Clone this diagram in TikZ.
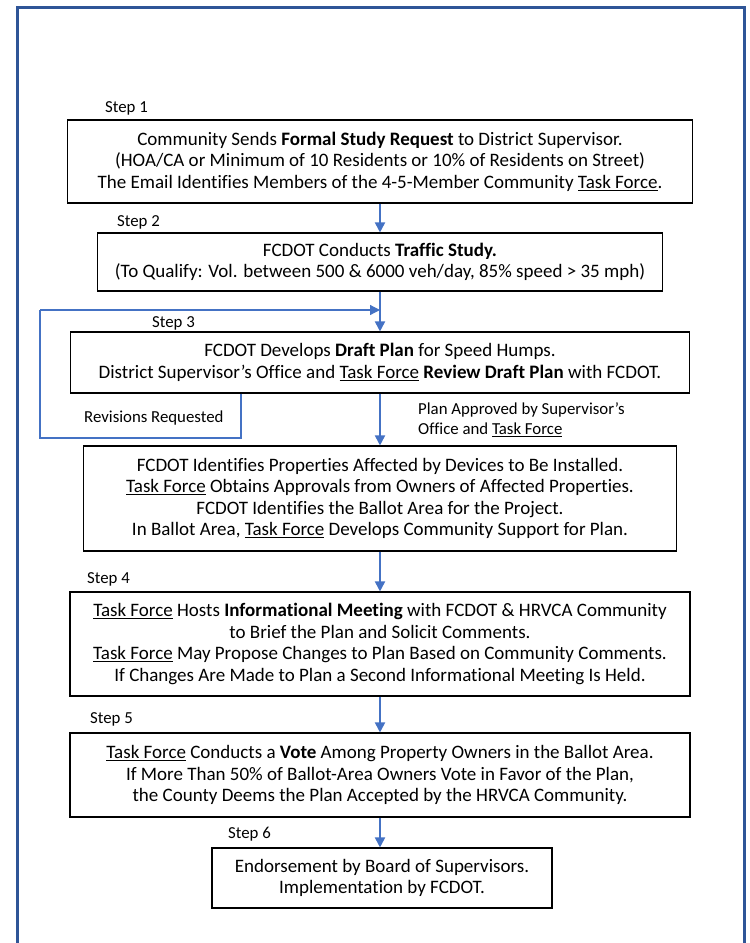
\documentclass[tikz,border=0pt]{standalone}
\usepackage{fontspec}
\setmainfont{Carlito}[Ligatures=NoCommon]
\usepackage{xcolor}
\usetikzlibrary{arrows.meta}

\definecolor{framecol}{RGB}{47,85,151}
\definecolor{arrowcol}{RGB}{68,114,196}
\newcommand{\tforce}{\underline{Task Force}}

\tikzset{
  stepbox/.style={draw, line width=1.1pt, align=center, inner sep=0pt,
    font=\fontsize{19}{21.6}\selectfont},
  steplabel/.style={anchor=west, inner sep=0pt, font=\fontsize{16.8}{20}\selectfont},
  flow/.style={draw=arrowcol, line width=1.8pt, -{Triangle[width=10pt,length=10pt]}},
  loopline/.style={draw=arrowcol, line width=1.2pt}
}

\begin{document}
\begin{tikzpicture}[x=1pt,y=-1pt]
  \useasboundingbox (0,0) rectangle (750,943);
  % outer frame
  \draw[framecol, line width=3pt] (17,950) -- (17,7) -- (744,7) -- (744,950);

  \node[stepbox, minimum width=625pt, minimum height=83pt] (s1) at (380,161.5)
    {Community Sends \textbf{Formal Study Request} to District Supervisor.\\
     (HOA/CA or Minimum of 10 Residents or 10\% of Residents on Street)\\
     The Email Identifies Members of the 4-5-Member Community \tforce.};
  \node[stepbox, minimum width=565pt, minimum height=58pt] (s2) at (380,262)
    {FCDOT Conducts \textbf{Traffic Study.}\\
     (To Qualify: Vol. between 500 \& 6000 veh/day, 85\% speed > 35 mph)};
  \node[stepbox, minimum width=619pt, minimum height=61pt] (s3) at (380,362.5)
    {FCDOT Develops \textbf{Draft Plan} for Speed Humps.\\
     District Supervisor’s Office and \tforce{} \textbf{Review Draft Plan} with FCDOT.};
  \node[stepbox, minimum width=593pt, minimum height=105pt] (s3b) at (380,498.5)
    {FCDOT Identifies Properties Affected by Devices to Be Installed.\\
     \tforce{} Obtains Approvals from Owners of Affected Properties.\\
     FCDOT Identifies the Ballot Area for the Project.\\
     In Ballot Area, \tforce{} Develops Community Support for Plan.};
  \node[stepbox, minimum width=620pt, minimum height=104pt] (s4) at (380,644)
    {\tforce{} Hosts \textbf{Informational Meeting} with FCDOT \& HRVCA Community\\
     to Brief the Plan and Solicit Comments.\\
     \tforce{} May Propose Changes to Plan Based on Community Comments.\\
     If Changes Are Made to Plan a Second Informational Meeting Is Held.};
  \node[stepbox, minimum width=620pt, minimum height=84pt] (s5) at (380,775)
    {\tforce{} Conducts a \textbf{Vote} Among Property Owners in the Ballot Area.\\
     If More Than 50\% of Ballot-Area Owners Vote in Favor of the Plan,\\
     the County Deems the Plan Accepted by the HRVCA Community.};
  \node[stepbox, minimum width=340pt, minimum height=60pt] (s6) at (382,878)
    {Endorsement by Board of Supervisors.\\
     Implementation by FCDOT.};

  \node[steplabel] (l1) at (105,108) {Step 1};
  \node[steplabel] (l2) at (117,222) {Step 2};
  \node[steplabel] (l3) at (152,323) {Step 3};
  \node[steplabel] (l4) at (87,579) {Step 4};
  \node[steplabel] (l5) at (90,719) {Step 5};
  \node[steplabel] (l6) at (228,834) {Step 6};

  \node[steplabel] (rev) at (84,418) {Revisions Requested};
  \node[steplabel, align=left] (ok) at (418,420)
    {Plan Approved by Supervisor’s\\Office and \tforce};

  % revision loop
  \coordinate (lpa) at (241,438);
  \coordinate (lpb) at (40,438);
  \coordinate (lpc) at (40,310);
  \coordinate (join) at (380,310);
  \draw[loopline] (s3.south -| lpa) -- (lpa) -- (lpb) -- (lpc);
  \draw[loopline, -{Triangle[width=10pt,length=10pt]}] (lpc) -- (join);

  \draw[flow] (s1) -- (s2);
  \draw[flow] (s2) -- (s3);
  \draw[flow] (s3) -- (s3b);
  \draw[flow] (s3b) -- (s4);
  \draw[flow] (s4) -- (s5);
  \draw[flow] (s5.south) -- (s5.south |- s6.north);
\end{tikzpicture}
\end{document}
